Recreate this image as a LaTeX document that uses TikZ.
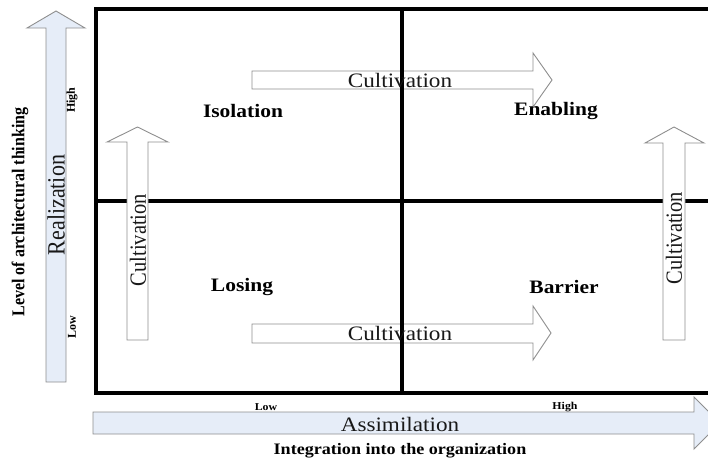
\documentclass[tikz,border=0pt]{standalone}
\usepackage{fontspec}
\setmainfont{Liberation Serif}
\definecolor{axisfill}{HTML}{E6EDF8}
\definecolor{outline}{HTML}{8E8E8E}
\newcommand\widetxt[1]{\scalebox{1.13}[1]{#1}}
\newcommand\talltxt[1]{\scalebox{1}[1.13]{#1}}
\begin{document}
\begin{tikzpicture}[x=1pt,y=-1pt,
  gridline/.style={line width=3.2pt, black},
  hollow/.style={draw=outline, line width=0.9pt, fill=white, line join=miter},
  axisarrow/.style={draw=outline, line width=0.9pt, fill=axisfill, line join=miter},
  quad/.style={inner sep=0pt, font=\fontsize{19}{22}\selectfont\bfseries},
  flowlabel/.style={inner sep=0pt, text=black!90, font=\fontsize{20.5}{24}\selectfont},
  axislabel/.style={inner sep=0pt, font=\fontsize{16}{19}\selectfont\bfseries},
  ticklabel/.style={inner sep=0pt, font=\fontsize{10.5}{12}\selectfont\bfseries},
  vticklabel/.style={inner sep=0pt, font=\fontsize{12}{14}\selectfont\bfseries}]

\clip (0,0) rectangle (708,459);
\useasboundingbox (0,0) rectangle (708,459);

% vertical axis arrow (Realization)
\draw[axisarrow] (46,382) -- (46,28) -- (27,28) -- (56,11) -- (85,28)
  -- (66,28) -- (66,382) -- cycle;
% horizontal axis arrow (Assimilation)
\draw[axisarrow] (93,412) -- (694,412) -- (694,397) -- (720,423)
  -- (694,449) -- (694,434) -- (93,434) -- cycle;

% quadrant frame
\coordinate (tl) at (96,9);
\coordinate (bl) at (96,393);
\coordinate (tr) at (708,9);
\coordinate (br) at (708,393);
\coordinate (ml) at (96,201);
\coordinate (mr) at (708,201);
\coordinate (mt) at (402,9);
\coordinate (mb) at (402,393);
\draw[gridline] (tr) -- (tl) -- (bl) -- (br);
\draw[gridline] (ml) -- (mr);

% vertical cultivation arrows
\draw[hollow] (127,340) -- (127,142) -- (107,142) -- (137.5,127) -- (168,142)
  -- (148,142) -- (148,340) -- cycle;
\draw[hollow] (663,340) -- (663,143) -- (645,143) -- (674,127) -- (704,143)
  -- (685,143) -- (685,340) -- cycle;

% horizontal cultivation arrows
\draw[hollow] (252,71) -- (533,71) -- (533,53) -- (552,80) -- (533,107)
  -- (533,89) -- (252,89) -- cycle;
\draw[hollow] (252,324) -- (533,324) -- (533,306) -- (551,333) -- (533,360)
  -- (533,343) -- (252,343) -- cycle;

\draw[gridline] (mt) -- (mb);

% quadrant names
\node[quad] (iso) at (243,111) {\widetxt{Isolation}};
\node[quad] (ena) at (556,111) {\widetxt{Enabling}};
\node[quad] (los) at (242,287) {\widetxt{Losing}};
\node[quad] (bar) at (564,287) {\widetxt{Barrier}};

% arrow labels
\node[flowlabel] (cultop) at (400,80) {\widetxt{Cultivation}};
\node[flowlabel] (culbot) at (400,333) {\widetxt{Cultivation}};
\node[flowlabel, rotate=90] (culleft) at (138,240) {\talltxt{Cultivation}};
\node[flowlabel, rotate=90] (culright) at (674,238) {\talltxt{Cultivation}};
\node[flowlabel, rotate=90, font=\fontsize{22}{26}\selectfont] (real) at (56,205) {\talltxt{Realization}};
\node[flowlabel] (assim) at (400,424) {\widetxt{Assimilation}};

% axis titles and ticks
\node[axislabel, rotate=90] (ytitle) at (20,212) {\talltxt{Level of architectural thinking}};
\node[axislabel] (xtitle) at (400,451) {\widetxt{Integration into the organization}};
\node[vticklabel, rotate=90] (yhigh) at (72,100) {High};
\node[vticklabel, rotate=90] (ylow) at (72,327) {Low};
\node[ticklabel] (xlow) at (266,407) {\widetxt{Low}};
\node[ticklabel] (xhigh) at (565,407) {\widetxt{High}};
\end{tikzpicture}
\end{document}
